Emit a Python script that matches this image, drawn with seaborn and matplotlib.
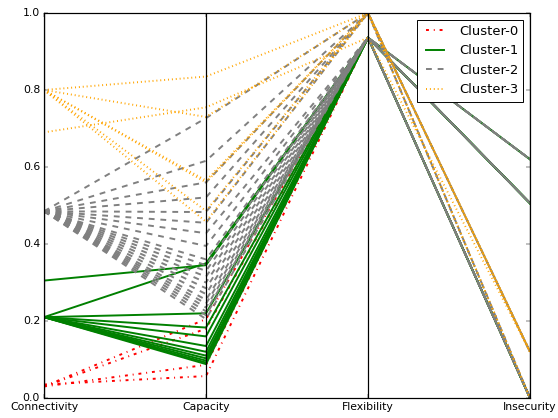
import matplotlib
matplotlib.use("Agg")
import matplotlib.pyplot as plt
import seaborn as sns
import pandas as pd
import numpy as np

# parallel coordinates of the four clusters
attributes = ['Connectivity', 'Capacity', 'Flexibility', 'Insecurity']
cluster_names = ['Cluster-0', 'Cluster-1', 'Cluster-2', 'Cluster-3']

# Cluster-0
c0_connectivity = [0.03, 0.03, 0.03, 0.035]
c0_capacity = [0.205, 0.18, 0.086, 0.057]
c0_flexibility = [0.936, 0.936, 0.936, 0.936]
c0_insecurity = [0.0, 0.0, 0.0, 0.0]

# Cluster-1
c1_connectivity = [0.305, 0.21, 0.21, 0.21, 0.21, 0.21, 0.21, 0.21, 0.21, 0.21, 0.21, 0.21]
c1_capacity = [0.345, 0.35, 0.22, 0.183, 0.16, 0.135, 0.12, 0.11, 0.103, 0.097, 0.092, 0.088]
c1_flexibility = [0.936] * 12
c1_insecurity = [0.506, 0.506, 0.62, 0.0, 0.506, 0.0, 0.506, 0.0, 0.506, 0.62, 0.0, 0.506]

# Cluster-2
c2_connectivity = [0.485] * 21
c2_capacity = [0.727, 0.616, 0.56, 0.521, 0.483, 0.455, 0.428, 0.395, 0.36, 0.345,
               0.33, 0.315, 0.30, 0.285, 0.27, 0.255, 0.245, 0.235, 0.225, 0.215, 0.205]
c2_flexibility = [1.0, 1.0, 1.0, 1.0, 1.0, 1.0, 0.936, 0.936, 0.936, 0.936,
                  0.936, 0.936, 0.936, 0.936, 0.936, 0.936, 0.936, 0.936, 0.936, 0.936, 0.936]
c2_insecurity = [0.12, 0.12, 0.0, 0.12, 0.0, 0.12, 0.62, 0.506, 0.0, 0.62,
                 0.506, 0.0, 0.62, 0.506, 0.0, 0.506, 0.62, 0.0, 0.506, 0.0, 0.62]

# Cluster-3
c3_connectivity = [0.8, 0.69, 0.8, 0.8, 0.8, 0.8, 0.8]
c3_capacity = [0.835, 0.755, 0.73, 0.565, 0.56, 0.486, 0.458]
c3_flexibility = [1.0, 0.936, 1.0, 1.0, 1.0, 1.0, 1.0]
c3_insecurity = [0.12, 0.12, 0.12, 0.0, 0.12, 0.12, 0.0]

plt.style.use('classic')
plt.rcParams['figure.facecolor'] = 'white'
plt.rcParams['savefig.facecolor'] = 'white'
plt.rcParams['font.size'] = 11.2
plt.rcParams['axes.linewidth'] = 1.25

clusters = [(c0_connectivity, c0_capacity, c0_flexibility, c0_insecurity),
            (c1_connectivity, c1_capacity, c1_flexibility, c1_insecurity),
            (c2_connectivity, c2_capacity, c2_flexibility, c2_insecurity),
            (c3_connectivity, c3_capacity, c3_flexibility, c3_insecurity)]

# long form: one row per (line, attribute)
rows = []
uid = 0
for name, cols in zip(cluster_names, clusters):
    for vals in zip(*cols):
        for i, v in enumerate(vals):
            rows.append({'id': uid, 'Cluster': name, 'pos': i, 'value': v})
        uid += 1
df = pd.DataFrame(rows)

palette = {'Cluster-0': 'red', 'Cluster-1': 'green', 'Cluster-2': 'gray', 'Cluster-3': 'orange'}
dashes = {'Cluster-0': (3, 5, 1, 5), 'Cluster-1': '', 'Cluster-2': (6, 6), 'Cluster-3': (1, 3)}

fig = plt.figure(figsize=(558 / 70, 418 / 70), dpi=70)
ax = fig.add_axes([44 / 558, 20 / 418, 486 / 558, 385 / 418])

sns.lineplot(data=df, x='pos', y='value', hue='Cluster', style='Cluster', units='id',
             estimator=None, sort=False, palette=palette, dashes=dashes,
             hue_order=cluster_names, style_order=cluster_names, linewidth=2, ax=ax)

for i in range(len(attributes)):
    ax.axvline(i, color='black', linewidth=1.25)

ax.set_xticks(range(len(attributes)))
ax.set_xticklabels(attributes)
ax.set_xlim(0, 3)
ax.set_ylim(0, 1)
ax.set_xlabel('')
ax.set_ylabel('')

handles, labels = ax.get_legend_handles_labels()
keep = [(h, l) for h, l in zip(handles, labels) if l in cluster_names]
ax.legend([h for h, l in keep], [l for h, l in keep], loc='upper right')

fig.savefig('out.png', dpi=70)
